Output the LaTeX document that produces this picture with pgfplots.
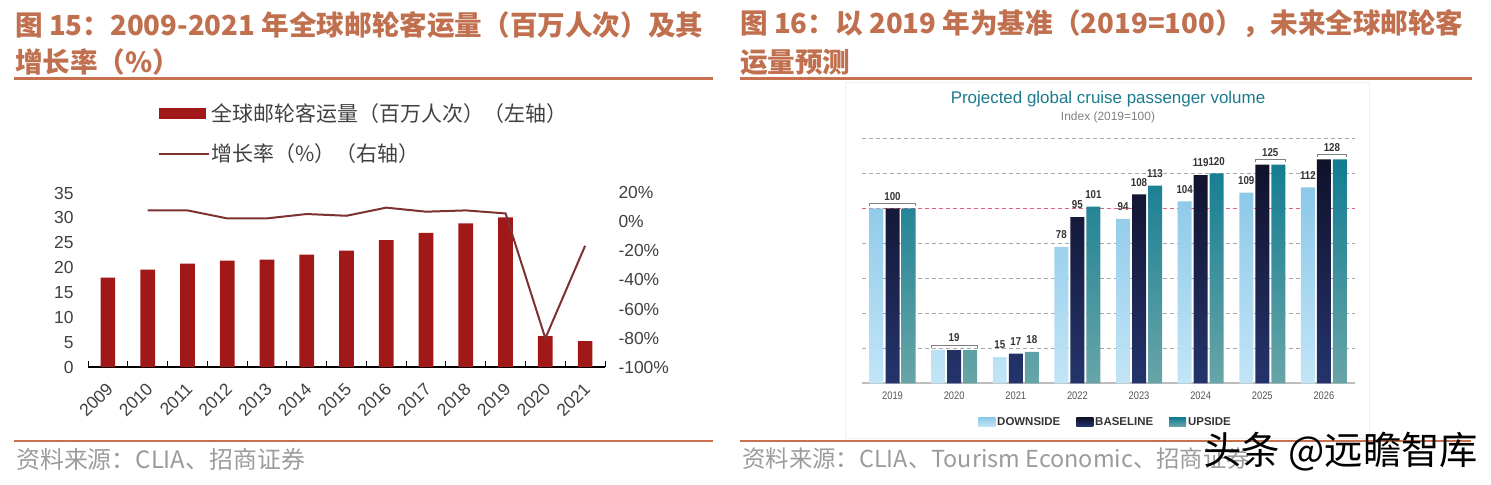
\documentclass[border=0pt]{standalone}
\usepackage{fontspec}
\setmainfont{Liberation Sans}
\newfontfamily\cjk{Noto Sans CJK SC}
\newfontfamily\condfont[FakeStretch=0.85]{Liberation Sans}
\usepackage{pgfplots}
\pgfplotsset{compat=1.18}
\definecolor{titlecol}{HTML}{C0704E}
\definecolor{rulecol}{HTML}{C8714F}
\definecolor{barred}{HTML}{A01818}
\definecolor{linered}{HTML}{7E3131}
\definecolor{textgray}{HTML}{404040}
\definecolor{srcgray}{HTML}{9B9B9B}
\definecolor{dsTop}{HTML}{8CC8E8}
\definecolor{dsBot}{HTML}{C2E5F7}
\definecolor{blTop}{HTML}{10112A}
\definecolor{blBot}{HTML}{24346C}
\definecolor{upTop}{HTML}{127C91}
\definecolor{upBot}{HTML}{68A5A8}
\definecolor{gridgray}{HTML}{A8A8A8}
\definecolor{redgrid}{HTML}{E0607E}
\definecolor{axisgray}{HTML}{BDBDBD}
\definecolor{teal}{HTML}{1B7A8C}
\definecolor{labgray}{HTML}{333333}
\definecolor{xgray}{HTML}{555555}
\begin{document}
\begin{tikzpicture}
% ---------- titles ----------
\node[anchor=west, inner sep=0, text=titlecol, font=\cjk\bfseries\fontsize{27.7}{30}\selectfont] at (15bp,460bp) {图 15：2009-2021 年全球邮轮客运量（百万人次）及其};
\node[anchor=west, inner sep=0, text=titlecol, font=\cjk\bfseries\fontsize{27.7}{30}\selectfont] at (15bp,423bp) {增长率（\%）};
\node[anchor=west, inner sep=0, text=titlecol, font=\cjk\bfseries\fontsize{27.7}{30}\selectfont] at (740bp,461bp) {图 16：以 2019 年为基准（2019=100），未来全球邮轮客};
\node[anchor=west, inner sep=0, text=titlecol, font=\cjk\bfseries\fontsize{27.7}{30}\selectfont] at (740bp,423bp) {运量预测};
\draw[rulecol, line width=3bp] (14bp,406bp) -- (713bp,406bp);
\draw[rulecol, line width=3bp] (740bp,406bp) -- (1472bp,406bp);
\draw[rulecol, line width=2.5bp] (14bp,44bp) -- (713bp,44bp);
\draw[rulecol, line width=2.5bp] (740bp,44bp) -- (1471bp,44bp);
\node[anchor=west, inner sep=0, text=srcgray, font=\cjk\fontsize{24}{25}\selectfont] at (16bp,26bp) {资料来源：CLIA、招商证券};
\node[anchor=west, inner sep=0, text=srcgray, font=\cjk\fontsize{23.5}{25}\selectfont] at (742bp,26bp) {资料来源：CLIA、Tourism Economic、招商证券};
% inner panel
\draw[gray!12, line width=0.8bp] (845bp,47bp) rectangle (1369bp,403bp);
\node[text=teal, font=\fontsize{17}{17}\selectfont] at (1108bp,386bp) {Projected global cruise passenger volume};
\node[text=gray, font=\fontsize{12}{12}\selectfont] at (1108bp,368bp) {Index (2019=100)};
% ---------- left chart: bars ----------
\begin{axis}[
  at={(88bp,118bp)}, anchor=south west, scale only axis, width=517bp, height=174bp,
  xmin=-0.5, xmax=12.5, ymin=0, ymax=35,
  axis x line*=bottom, axis y line*=left,
  x axis line style={-, black, line width=1.3bp},
  y axis line style={draw=none},
  xtick={0,1,2,3,4,5,6,7,8,9,10,11,12},
  xticklabels={2009,2010,2011,2012,2013,2014,2015,2016,2017,2018,2019,2020,2021},
  minor xtick={-0.5,0.5,1.5,2.5,3.5,4.5,5.5,6.5,7.5,8.5,9.5,10.5,11.5,12.5},
  ytick={0,5,10,15,20,25,30,35},
  tick align=inside,
  major tick length=0pt, minor tick length=6bp,
  minor tick style={black, line width=1bp},
  xticklabel style={xshift=2bp, yshift=-19bp, rotate=45, anchor=east, inner sep=0pt, font=\fontsize{17.5}{17.5}\selectfont, text=textgray},
  yticklabel style={font=\fontsize{17.5}{17.5}\selectfont, text=textgray, xshift=-11bp},
  /pgf/number format/assume math mode=true,
  clip=false,
  legend style={at={(0.135,1.527)}, anchor=north west, draw=none, fill=none, inner sep=0pt,
    font=\cjk\fontsize{21}{21}\selectfont, text=textgray, row sep=17bp},
  legend cell align=left,
]
\addplot[ybar, bar width=0.37, bar shift=0, fill=barred, draw=none,
  legend image code/.code={\fill[barred] (0bp,-5.5bp) rectangle (47bp,5.5bp);}]
  coordinates {(0,18.0) (1,19.6) (2,20.8) (3,21.4) (4,21.6) (5,22.6) (6,23.4) (7,25.5) (8,27.0) (9,28.9) (10,30.1) (11,6.2) (12,5.2)};
\addlegendentry{全球邮轮客运量（百万人次）（左轴）}
\addlegendimage{legend image code/.code={\draw[linered, line width=2bp] (0bp,0bp) -- (50bp,0bp);}}
\addlegendentry{增长率（\%）（右轴）}
\end{axis}
% ---------- left chart: growth line ----------
\begin{axis}[
  at={(88bp,118bp)}, anchor=south west, scale only axis, width=517bp, height=174bp,
  xmin=-0.5, xmax=12.5, ymin=-100, ymax=20,
  axis x line=none, axis y line*=right, y axis line style={draw=none},
  ytick={-100,-80,-60,-40,-20,0,20},
  yticklabel={\pgfmathprintnumber{\tick}\%},
  major tick length=0pt,
  yticklabel style={font=\fontsize{17.5}{17.5}\selectfont, text=textgray, xshift=10bp},
  /pgf/number format/assume math mode=true,
  clip=false,
]
\addplot[linered, line width=2bp, mark=none]
  coordinates {(1,8.0) (2,8.0) (3,2.5) (4,2.5) (5,5.5) (6,4.3) (7,9.9) (8,7.1) (9,8.0) (10,5.9) (11,-80.2) (12,-16.4)};
\end{axis}
% ---------- right chart ----------
\begin{axis}[
  at={(861.7bp,101.7bp)}, anchor=south west, scale only axis, width=493bp, height=245bp,
  xmin=-0.5, xmax=7.5, ymin=0, ymax=140,
  axis x line*=bottom, axis y line*=left,
  x axis line style={-, draw=axisgray, line width=2bp},
  y axis line style={draw=none},
  xtick={0,1,2,3,4,5,6,7},
  xticklabels={2019,2020,2021,2022,2023,2024,2025,2026},
  ytick={20,40,60,80,120,140}, yticklabels={},
  extra y ticks={100}, extra y tick labels={},
  ymajorgrids,
  grid style={gridgray, dash pattern=on 4bp off 3bp, line width=0.8bp},
  extra y tick style={grid style={redgrid, dash pattern=on 4bp off 3bp, line width=1bp}},
  major tick length=0pt,
  xticklabel style={font=\condfont\fontsize{11}{11}\selectfont, text=xgray, yshift=-5bp},
  /pgf/number format/assume math mode=true,
  clip=false,
  legend columns=3,
  legend style={at={(0.236,-0.158)}, anchor=west, draw=none, fill=none, inner sep=0pt,
    font=\bfseries\fontsize{11.5}{12}\selectfont, text=labgray,
    /tikz/every even column/.append style={column sep=14bp}},
]
\addplot[ybar, bar width=0.227, bar shift=-0.26, draw=none, top color=dsTop, bottom color=dsBot,
  legend image code/.code={\shade[top color=dsTop,bottom color=dsBot] (0bp,-4.5bp) rectangle (17bp,4.5bp);}]
  coordinates {(0,100) (1,19) (2,15) (3,78) (4,94) (5,104) (6,109) (7,112)};
\addlegendentry{DOWNSIDE}
\addplot[ybar, bar width=0.227, bar shift=0, draw=none, top color=blTop, bottom color=blBot,
  legend image code/.code={\shade[top color=blTop,bottom color=blBot] (0bp,-4.5bp) rectangle (17bp,4.5bp);}]
  coordinates {(0,100) (1,19) (2,17) (3,95) (4,108) (5,119) (6,125) (7,128)};
\addlegendentry{BASELINE}
\addplot[ybar, bar width=0.227, bar shift=0.26, draw=none, top color=upTop, bottom color=upBot,
  legend image code/.code={\shade[top color=upTop,bottom color=upBot] (0bp,-4.5bp) rectangle (17bp,4.5bp);}]
  coordinates {(0,100) (1,19) (2,18) (3,101) (4,113) (5,120) (6,125) (7,128)};
\addlegendentry{UPSIDE}
% brackets
\addplot[gray, line width=0.8bp, mark=none, forget plot] coordinates {(-0.373,101.3) (-0.373,102.9) (0.373,102.9) (0.373,101.3)};
\addplot[gray, line width=0.8bp, mark=none, forget plot] coordinates {(0.627,20.3) (0.627,21.9) (1.373,21.9) (1.373,20.3)};
\addplot[gray, line width=0.8bp, mark=none, forget plot] coordinates {(5.887,126.3) (5.887,127.9) (6.373,127.9) (6.373,126.3)};
\addplot[gray, line width=0.8bp, mark=none, forget plot] coordinates {(6.887,129.3) (6.887,130.9) (7.373,130.9) (7.373,129.3)};
% value labels
\addplot[only marks, mark=*, mark size=0pt, mark options={draw=none, fill=none}, forget plot,
  nodes near coords, point meta=explicit symbolic,
  nodes near coords style={font=\condfont\bfseries\fontsize{11.5}{12}\selectfont, text=labgray, anchor=center, yshift=12bp, inner sep=0pt}]
  coordinates {(0,100)[100] (1,19)[19] (1.74,15)[15] (2,17)[17] (2.26,18)[18]
    (2.74,78)[78] (3,95)[95] (3.26,101)[101]
    (3.74,94)[94] (4,108)[108] (4.26,113)[113]
    (4.74,104)[104] (5,119)[119] (5.26,120)[120]
    (5.74,109)[109] (6.13,125)[125]
    (6.74,112)[112] (7.13,128)[128]};
\end{axis}
% watermark
\node[anchor=west, inner sep=0, text=black, font=\cjk\fontsize{38.5}{38.5}\selectfont] at (1203bp,33bp) {头条 @远瞻智库};
\pgfresetboundingbox
\path[use as bounding box] (0bp,0bp) rectangle (1491bp,485bp);
\end{tikzpicture}
\end{document}
